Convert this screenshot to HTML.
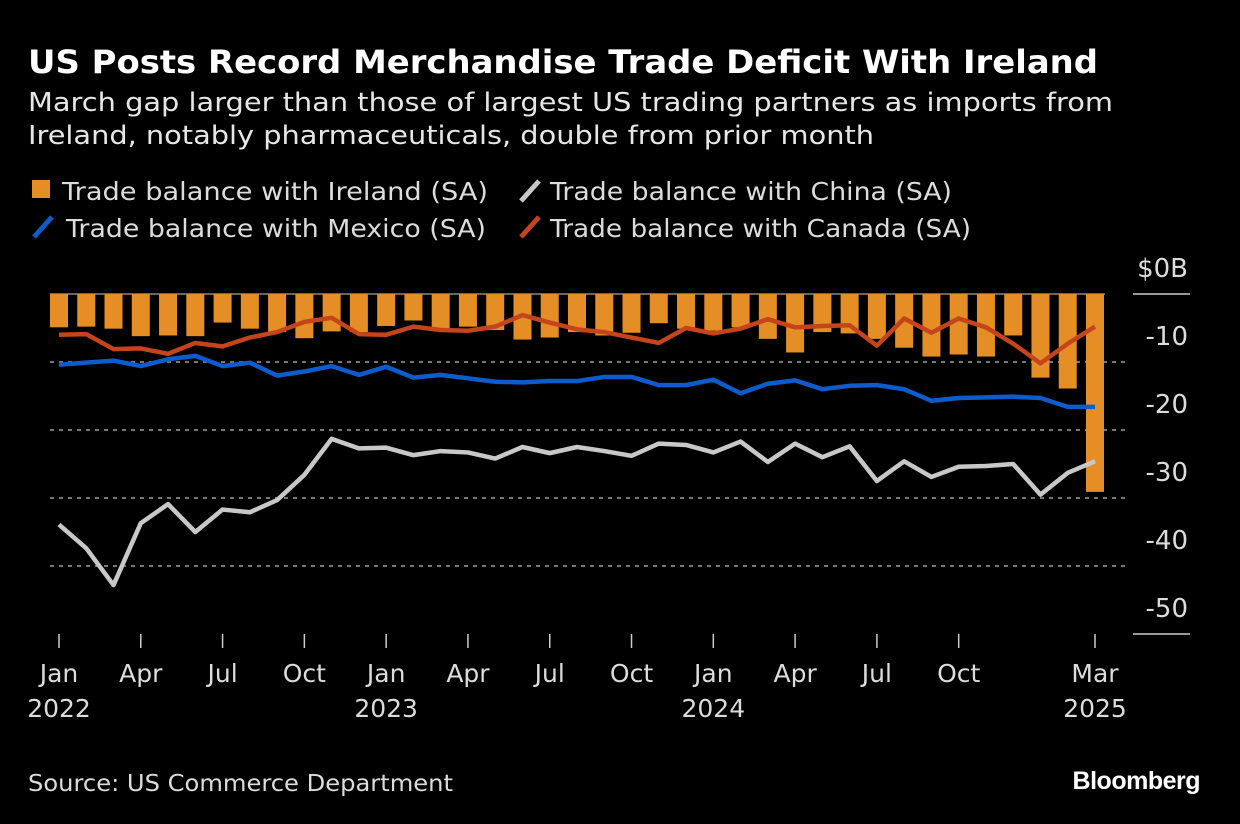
<!DOCTYPE html>
<html><head><meta charset="utf-8">
<style>
body{margin:0;background:#000;width:1240px;height:824px;overflow:hidden;font-family:"DejaVu Sans","Liberation Sans",sans-serif;color:#fff}
svg{position:absolute;left:0;top:0;font-family:"DejaVu Sans","Liberation Sans",sans-serif}
</style></head>
<body>
<svg width="1240" height="824" id="chart">
<text x="28" y="73" font-size="32" font-weight="bold" fill="#fff" textLength="1070" lengthAdjust="spacingAndGlyphs">US Posts Record Merchandise Trade Deficit With Ireland</text>
<text x="28" y="111" font-size="26" fill="#e6e6e6" textLength="1085" lengthAdjust="spacingAndGlyphs">March gap larger than those of largest US trading partners as imports from</text>
<text x="28" y="144" font-size="26" fill="#e6e6e6" textLength="846" lengthAdjust="spacingAndGlyphs">Ireland, notably pharmaceuticals, double from prior month</text>
<g font-size="25" fill="#dcdcdc">
<g><rect x="32" y="180" width="18" height="18" fill="#e58e26"/><text x="62" y="200" textLength="426" lengthAdjust="spacingAndGlyphs">Trade balance with Ireland (SA)</text></g>
<g><line x1="521" y1="201" x2="539" y2="181" stroke="#c8c8c8" stroke-width="5"/><text x="550" y="200" textLength="402" lengthAdjust="spacingAndGlyphs">Trade balance with China (SA)</text></g>
<g><line x1="34" y1="237" x2="52" y2="217" stroke="#0e5ccc" stroke-width="5"/><text x="66" y="237" textLength="420" lengthAdjust="spacingAndGlyphs">Trade balance with Mexico (SA)</text></g>
<g><line x1="521" y1="237" x2="539" y2="217" stroke="#c4441c" stroke-width="5"/><text x="550" y="237" textLength="421" lengthAdjust="spacingAndGlyphs">Trade balance with Canada (SA)</text></g>
</g>
<g id="grid"></g><g id="bars"></g><g id="lines"></g><g id="axes"></g>
<text x="28" y="791" font-size="23" fill="#dcdcdc" textLength="425" lengthAdjust="spacingAndGlyphs">Source: US Commerce Department</text>
<text x="1200" y="789" font-size="25" font-weight="bold" fill="#fff" text-anchor="end" font-family="Liberation Sans" letter-spacing="-0.5">Bloomberg</text>
</svg>
<script>
const ireland=[-4.9,-4.8,-5.1,-6.2,-6.1,-6.2,-4.2,-5.1,-5.6,-6.5,-5.5,-5.6,-4.7,-3.9,-5.4,-4.8,-5.3,-6.7,-6.4,-5.6,-6.1,-5.7,-4.3,-5.1,-5.4,-4.9,-6.6,-8.6,-5.6,-5.8,-6.6,-7.9,-9.2,-8.9,-9.2,-6.1,-12.3,-13.9,-29.1];
const canada=[-6.0,-5.9,-8.1,-8.0,-8.8,-7.2,-7.7,-6.4,-5.6,-4.1,-3.5,-5.9,-6.0,-4.8,-5.3,-5.4,-4.8,-3.1,-4.2,-5.2,-5.6,-6.4,-7.2,-5.0,-5.8,-5.1,-3.7,-4.9,-4.7,-4.6,-7.6,-3.6,-5.7,-3.6,-4.9,-7.3,-10.2,-7.3,-4.8];
const mexico=[-10.4,-10.1,-9.8,-10.6,-9.6,-9.1,-10.6,-10.1,-12.0,-11.4,-10.6,-11.9,-10.7,-12.3,-11.9,-12.4,-12.9,-13.0,-12.8,-12.8,-12.2,-12.2,-13.4,-13.4,-12.6,-14.6,-13.2,-12.7,-14.0,-13.5,-13.4,-14.0,-15.7,-15.3,-15.2,-15.1,-15.3,-16.6,-16.6];
const china=[-33.9,-37.4,-42.8,-33.7,-30.9,-35.0,-31.7,-32.1,-30.3,-26.6,-21.3,-22.7,-22.6,-23.7,-23.1,-23.3,-24.2,-22.5,-23.4,-22.5,-23.1,-23.8,-22.0,-22.2,-23.3,-21.7,-24.7,-22.0,-24.0,-22.4,-27.5,-24.6,-26.9,-25.4,-25.3,-25.0,-29.5,-26.3,-24.6];
const yTicks=[0,-10,-20,-30,-40,-50];
const yTickLabels=["$0B","-10","-20","-30","-40","-50"];
const xTickIdx=[0,3,6,9,12,15,18,21,24,27,30,33,38];
const xTickLabels=["Jan","Apr","Jul","Oct","Jan","Apr","Jul","Oct","Jan","Apr","Jul","Oct","Mar"];
const yearLabels=[["2022",0],["2023",12],["2024",24],["2025",38]];

const NS="http://www.w3.org/2000/svg";
const x=i=>59+i*(1095-59)/38;
const y=v=>294-v*6.8;
function mk(tag,attrs,parent){const e=document.createElementNS(NS,tag);for(const k in attrs)e.setAttribute(k,attrs[k]);document.getElementById(parent).appendChild(e);return e;}

yTicks.forEach((t,k)=>{
  if(t!==0&&t!==-50){const g=mk('line',{x1:50,x2:1130,y1:y(t),y2:y(t),stroke:'#777','stroke-width':2,'stroke-dasharray':'4 5'},'grid');
  
  }
  const tx=mk('text',{x:1188,y:y(t)-17,'font-size':26,fill:'#dcdcdc','text-anchor':'end'},'axes');
  tx.textContent=yTickLabels[k];
  
  
});
const zl=mk('line',{x1:50,x2:1105,y1:y(0),y2:y(0),stroke:'#888','stroke-width':1.5},'grid');


[0,-50].forEach(t=>{const l=mk('line',{x1:1133,x2:1190,y1:y(t),y2:y(t),stroke:'#ccc','stroke-width':1.5},'axes');

});

ireland.forEach((v,i)=>{
  const r=mk('rect',{x:x(i)-9,y:y(0),width:18,height:y(v)-y(0),fill:'#e58e26'},'bars');
  
  
});
function line(arr,color,name){
  const p=mk('polyline',{points:arr.map((v,i)=>x(i)+','+y(v)).join(' '),fill:'none',stroke:color,'stroke-width':4.5,'stroke-linejoin':'round'},'lines');
  
  
}
line(china,'#c8c8c8','line-china');
line(mexico,'#0e5ccc','line-mexico');
line(canada,'#c4441c','line-canada');

xTickIdx.forEach((i,k)=>{
  const t=mk('line',{x1:x(i),x2:x(i),y1:634,y2:648,stroke:'#ccc','stroke-width':1.5},'axes');
  
  
  const l=mk('text',{x:x(i),y:682,'font-size':25,fill:'#dcdcdc','text-anchor':'middle'},'axes');
  l.textContent=xTickLabels[k];
  
  
});
yearLabels.forEach(([s,i])=>{
  const l=mk('text',{x:x(i),y:717,'font-size':25,fill:'#dcdcdc','text-anchor':'middle'},'axes');
  l.textContent=s;
  
  
});
</script>
</body></html>
